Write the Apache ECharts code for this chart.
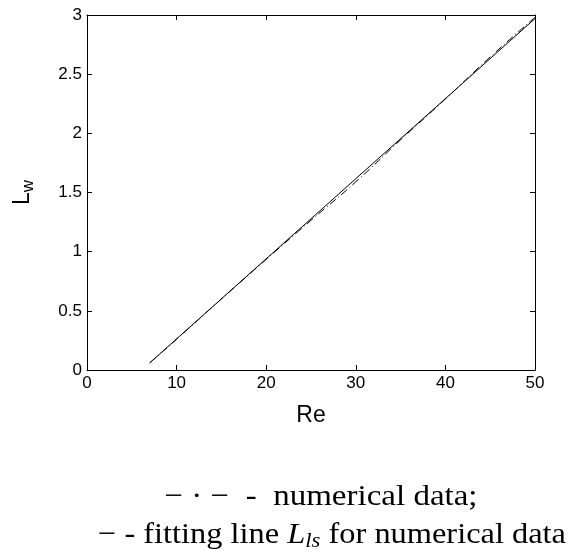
<!DOCTYPE html>
<html>
<head>
<meta charset="utf-8">
<script src="https://cdn.jsdelivr.net/npm/echarts@6/dist/echarts.min.js"></script>
<style>
  html, body { margin: 0; padding: 0; background: #fff; }
  #main { width: 580px; height: 557px; }
</style>
</head>
<body>
<div id="main"></div>
<script>
// values
var reTicks = [0, 10, 20, 30, 40, 50];
var lwTicks = [0, 0.5, 1, 1.5, 2, 2.5, 3];

var reData = [7, 10, 15, 20, 25, 30, 35, 40, 45, 50];
var lwData = [0.06, 0.26, 0.60, 0.935, 1.265, 1.59, 1.945, 2.29, 2.645, 2.98];

var fitRe = [7, 50];
var fitLw = [0.06, 2.97];

function pairs(xs, ys) {
    var out = [];
    for (var i = 0; i < xs.length; i++) {
        out.push([xs[i], ys[i]]);
    }
    return out;
}

var myChart = echarts.init(document.getElementById('main'));

var labelFont = 'Liberation Sans, Arial, sans-serif';
var serif = 'Liberation Serif, DejaVu Serif, serif';

var lineStyle = { color: '#000', width: 1 };

function boxAxis(pos) {
    return {
        type: 'value',
        position: pos,
        axisLine: { onZero: false, lineStyle: lineStyle },
        axisTick: { inside: true, length: 5, lineStyle: lineStyle },
        axisLabel: { show: false },
        splitLine: { show: false }
    };
}

var topAxis = boxAxis('top');
topAxis.min = reTicks[0];
topAxis.max = reTicks[reTicks.length - 1];
topAxis.interval = 10;

var rightAxis = boxAxis('right');
rightAxis.min = lwTicks[0];
rightAxis.max = lwTicks[lwTicks.length - 1];
rightAxis.interval = 0.5;

var option = {
    animation: false,
    backgroundColor: '#fff',
    grid: { left: 87, right: 45, top: 15, bottom: 187 },
    xAxis: [
        {
            type: 'value',
            min: reTicks[0],
            max: reTicks[reTicks.length - 1],
            interval: 10,
            position: 'bottom',
            name: 'Re',
            nameLocation: 'middle',
            nameGap: 34,
            nameTextStyle: { fontFamily: labelFont, fontSize: 23, color: '#000' },
            axisLine: { onZero: false, lineStyle: lineStyle },
            axisTick: { inside: true, length: 5, lineStyle: lineStyle },
            axisLabel: { fontFamily: labelFont, fontSize: 17, color: '#000', margin: 5 },
            splitLine: { show: false }
        },
        topAxis
    ],
    yAxis: [
        {
            type: 'value',
            min: lwTicks[0],
            max: lwTicks[lwTicks.length - 1],
            interval: 0.5,
            position: 'left',
            name: 'L{s|w}',
            nameLocation: 'middle',
            nameRotate: 90,
            nameGap: 50,
            nameTextStyle: {
                fontFamily: labelFont, fontSize: 23, color: '#000',
                rich: {
                    s: { fontFamily: labelFont, fontSize: 17, color: '#000', padding: [11, 0, 0, 0] }
                }
            },
            axisLine: { onZero: false, lineStyle: lineStyle },
            axisTick: { inside: true, length: 5, lineStyle: lineStyle },
            axisLabel: { fontFamily: labelFont, fontSize: 17, color: '#000', margin: 5 },
            splitLine: { show: false }
        },
        rightAxis
    ],
    series: [
        {
            name: 'numerical data',
            type: 'line',
            data: pairs(reData, lwData),
            showSymbol: false,
            smooth: true,
            lineStyle: { color: '#000', width: 1, type: [8, 3, 1, 3] }
        },
        {
            name: 'fitting line',
            type: 'line',
            data: pairs(fitRe, fitLw),
            showSymbol: false,
            lineStyle: { color: '#000', width: 1, type: 'solid' }
        }
    ],
    graphic: [
        {
            type: 'text',
            x: 321,
            y: 497,
            scaleX: 1.1,
            style: {
                text: '\u2212 \u00b7 \u2212  -  numerical data;',
                font: '30px ' + serif,
                fill: '#000',
                align: 'center',
                verticalAlign: 'middle'
            }
        },
        {
            type: 'text',
            x: 332,
            y: 535,
            scaleX: 1.08,
            style: {
                text: '\u2212 - fitting line {i|L}{s|ls} for numerical data',
                font: '30px ' + serif,
                fill: '#000',
                align: 'center',
                verticalAlign: 'middle',
                rich: {
                    i: { fontFamily: serif, fontSize: 30, fontStyle: 'italic', fill: '#000' },
                    s: { fontFamily: serif, fontSize: 21, fontStyle: 'italic', fill: '#000', padding: [12, 0, 0, 0] }
                }
            }
        }
    ]
};

myChart.setOption(option);
</script>
</body>
</html>
